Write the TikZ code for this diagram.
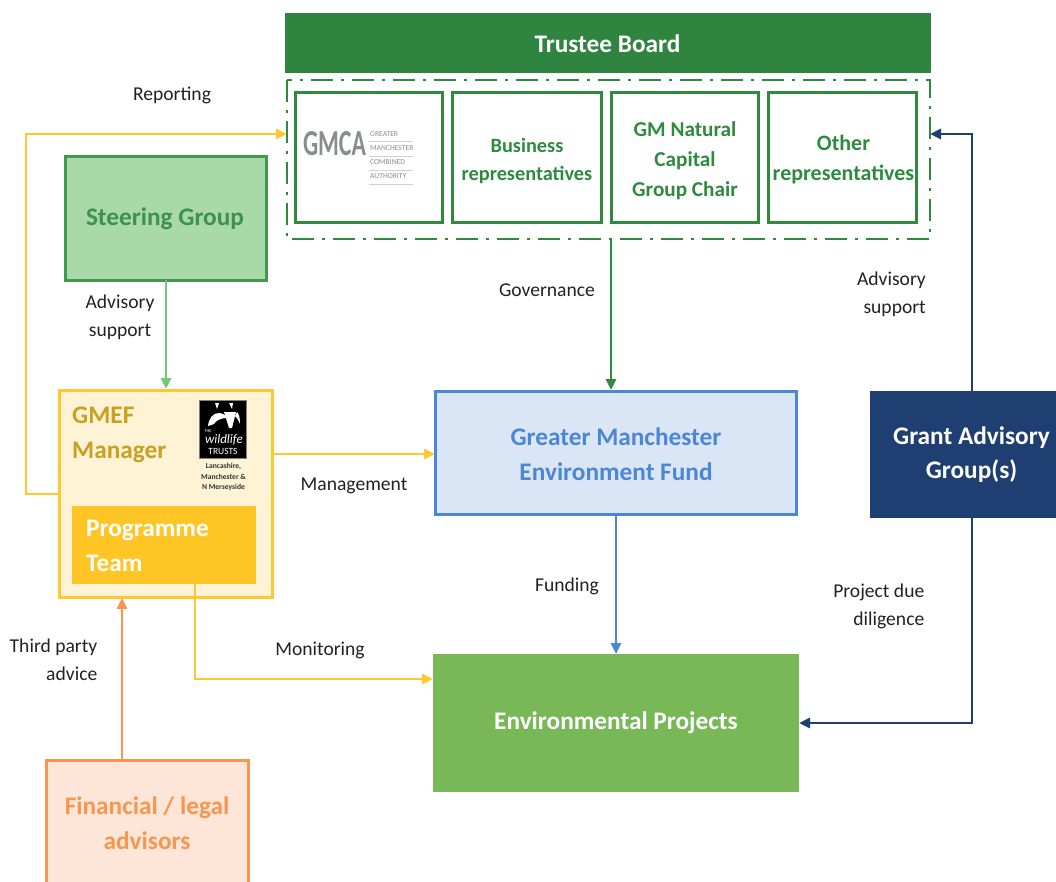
\documentclass[tikz,border=0pt]{standalone}
\usepackage{fontspec}
\setmainfont{Carlito}
\usetikzlibrary{arrows.meta,calc}
\definecolor{dgreen}{HTML}{2E8B3E}
\definecolor{bargreen}{HTML}{2F8540}
\definecolor{sgfill}{HTML}{A9D9A8}
\definecolor{sgline}{HTML}{3F9A4E}
\definecolor{sgtext}{HTML}{3E9150}
\definecolor{lgreen}{HTML}{70C878}
\definecolor{yel}{HTML}{FFC832}
\definecolor{mgrfill}{HTML}{FFF3D6}
\definecolor{mgrtext}{HTML}{C9A022}
\definecolor{teamfill}{HTML}{FFC524}
\definecolor{blu}{HTML}{4C86D6}
\definecolor{blufill}{HTML}{DAE6F6}
\definecolor{navy}{HTML}{1F3F73}
\definecolor{epgreen}{HTML}{78B856}
\definecolor{org}{HTML}{F7964F}
\definecolor{orgfill}{HTML}{FDE6D8}
\definecolor{lbl}{HTML}{222222}
\definecolor{gmcagrey}{HTML}{8A8D90}
\tikzset{
  x=1pt,y=-1pt,
  box/.style={draw,line width=3pt,anchor=north west,inner sep=0pt,align=center},
  repbox/.style={box,draw=dgreen,fill=white},
  reptext/.style={inner sep=0pt,align=center,text=dgreen},
  boxtext/.style={inner sep=0pt,align=center,big},
  lab/.style={font=\fontsize{19.6}{28}\selectfont,text=lbl,inner sep=0pt,align=center},
  big/.style={font=\fontsize{25.3}{34.5}\selectfont\bfseries},
  conn/.style={line width=2.8pt,-{Triangle[length=11pt,width=10pt]}},
}
\begin{document}
\begin{tikzpicture}
\useasboundingbox (0,0) rectangle (1056,882);
% trustee
\node[anchor=north west,fill=bargreen,minimum width=646pt,minimum height=60pt,inner sep=0pt] (tb) at (285,13) {};
\node[boxtext,text=white] (tbt) at (607.5,43.5) {Trustee Board};
\draw[dgreen,line width=2.8pt,dash pattern=on 22pt off 8pt on 3pt off 8pt] (287,80) -- (287,239) -- (930,239) -- (930,80) -- cycle;
\coordinate (tbbottom) at (611,239);
\coordinate (tbleft) at (287,134);
\coordinate (tbright) at (930,134);
\node[repbox,minimum width=147pt,minimum height=130pt] (gmca) at (293.5,91.5) {};
\node[repbox,minimum width=149pt,minimum height=130pt] (bus) at (451,91.5) {};
\node[reptext,font=\fontsize{20.3}{28}\selectfont\bfseries] (bust) at (527,160.5) {Business\\representatives};
\node[repbox,minimum width=147pt,minimum height=130pt] (cap) at (610,91.5) {};
\node[reptext,font=\fontsize{21.2}{30}\selectfont\bfseries] (capt) at (685,160.5) {GM Natural\\Capital\\Group Chair};
\node[repbox,minimum width=148pt,minimum height=130pt] (oth) at (767,91.5) {};
\node[reptext,font=\fontsize{22}{30}\selectfont\bfseries] (otht) at (843.5,159.5) {Other\\representatives};
\node[inner sep=0pt,text=gmcagrey,font=\bfseries] (gmcat) at (334.5,143.5) {\resizebox{63pt}{24pt}{GMCA}};
\node[inner sep=0pt,anchor=north west,text=gmcagrey,align=left,font=\fontsize{7.6}{14.2}\selectfont] (gmcas) at (370,131) {GREATER\\MANCHESTER\\COMBINED\\AUTHORITY};
\foreach \yy in {141.5,156,170,184.5}{\draw[gmcagrey!40,line width=.7pt] (369,\yy) -- (413,\yy);}
% steering
\node[box,draw=sgline,fill=sgfill,minimum width=201pt,minimum height=124pt] (sg) at (64,155) {};
\node[boxtext,text=sgtext] (sgt) at (165,219) {Steering Group};
% manager
\node[box,draw=yel,fill=mgrfill,minimum width=213pt,minimum height=207pt] (mgr) at (57.5,389) {};
\node[anchor=north west,inner sep=0pt,align=left,text=mgrtext,big] (mgrt) at (72,407) {GMEF\\Manager};
\node[anchor=north west,fill=teamfill,minimum width=184pt,minimum height=78pt,inner sep=0pt] (team) at (72,506) {};
\node[anchor=north west,inner sep=0pt,align=left,text=white,big] (teamt) at (86,520) {Programme\\Team};
% wildlife trusts logo
\node[anchor=north west,fill=black,draw=gray,line width=.8pt,minimum width=47pt,minimum height=58pt,inner sep=0pt] (wt) at (199,400) {};
\fill[white] (208,426) .. controls (209,418) and (213,413) .. (219,413) .. controls (222,413) and (226,415) .. (227,418) .. controls (222,418) and (216,420) .. (214,424) -- cycle;
\fill[white] (224,412) -- (236,412) -- (232,428) -- (229,428) -- cycle;
\fill[white] (237,412) .. controls (239,414) and (240,418) .. (240,424) .. controls (238,420) and (237,417) .. (235,416) -- cycle;
\fill[white] (215,403) -- (219,403) -- (217,409) -- cycle;
\fill[white] (229,403) -- (233,403) -- (232,409) -- cycle;
\node[inner sep=0pt,text=white,font=\fontsize{4.5}{4.5}\selectfont] (wtt) at (208,431) {THE};
\node[inner sep=0pt,text=white,font=\fontsize{13}{13}\selectfont\itshape] (wtw) at (224,440) {wildlife};
\node[inner sep=0pt,text=white,font=\fontsize{9.5}{9.5}\selectfont] (wtr) at (223,451) {TRUSTS};
\node[inner sep=0pt,text=black!80,align=center,font=\fontsize{7.6}{10.6}\selectfont\bfseries] (wtl) at (223.5,477) {Lancashire,\\Manchester \&\\N Merseyside};
% GM fund
\node[box,draw=blu,fill=blufill,minimum width=361pt,minimum height=123pt] (fund) at (433.5,389.5) {};
\node[boxtext,text=blu] (fundt) at (616,454) {Greater Manchester\\Environment Fund};
% projects
\node[anchor=north west,fill=epgreen,minimum width=366pt,minimum height=138pt,inner sep=0pt] (ep) at (433,654) {};
\node[boxtext,text=white] (ept) at (616,723) {Environmental Projects};
% grant
\node[anchor=north west,fill=navy,minimum width=186pt,minimum height=127pt,inner sep=0pt] (gag) at (870,391) {};
\node[text=white,boxtext] (gagt) at (971.5,454.5) {Grant Advisory\\Group(s)};
% advisors
\node[box,draw=org,fill=orgfill,minimum width=202pt,minimum height=124pt] (fin) at (45,758.5) {};
\node[boxtext,text=org] (fint2) at (147,823) {Financial / legal\\advisors};
% connectors
\coordinate (mgrl) at (59,494);
\coordinate (leftc) at (26,494);
\coordinate (leftt) at (26,134);
\draw[conn,yel] (mgrl) -- (leftc) -- (leftt) -- (tbleft);
\coordinate (sgb) at (166,280);
\coordinate (mgrt2) at (166,389);
\draw[conn,lgreen] (sgb) -- (mgrt2);
\coordinate (fundtop) at (611,390);
\draw[conn,dgreen] (tbbottom) -- (fundtop);
\coordinate (mr) at (274,454);
\coordinate (fl) at (435,454);
\draw[conn,yel] (mr) -- (fl);
\coordinate (fb) at (616,515);
\coordinate (eptop) at (616,654);
\draw[conn,blu] (fb) -- (eptop);
\coordinate (monstart) at (195,584);
\coordinate (monc) at (195,679);
\coordinate (mone) at (433,679);
\draw[conn,yel] (monstart) -- (monc) -- (mone);
\coordinate (fint) at (122,760);
\coordinate (mgrb) at (122,598);
\draw[conn,org] (fint) -- (mgrb);
\coordinate (gt) at (972,391);
\coordinate (gtc) at (972,134);
\draw[conn,navy] (gt) -- (gtc) -- (tbright);
\coordinate (gb) at (972,518);
\coordinate (gbc) at (972,723);
\coordinate (epr) at (799,723);
\draw[conn,navy] (gb) -- (gbc) -- (epr);
% labels
\node[lab] (l1) at (172,95.5) {Reporting};
\node[lab] (l2) at (120,317) {Advisory\\support};
\node[lab] (l3) at (547,290.5) {Governance};
\node[lab,anchor=east,align=right] (l4) at (926,294) {Advisory\\support};
\node[lab] (l5) at (354,485.5) {Management};
\node[lab] (l6) at (567,586.5) {Funding};
\node[lab,anchor=east,align=right] (l7) at (924.5,606.5) {Project due\\diligence};
\node[lab] (l8) at (320,650.5) {Monitoring};
\node[lab,anchor=east,align=right] (l9) at (97.5,659.5) {Third party\\advice};
\end{tikzpicture}
\end{document}
